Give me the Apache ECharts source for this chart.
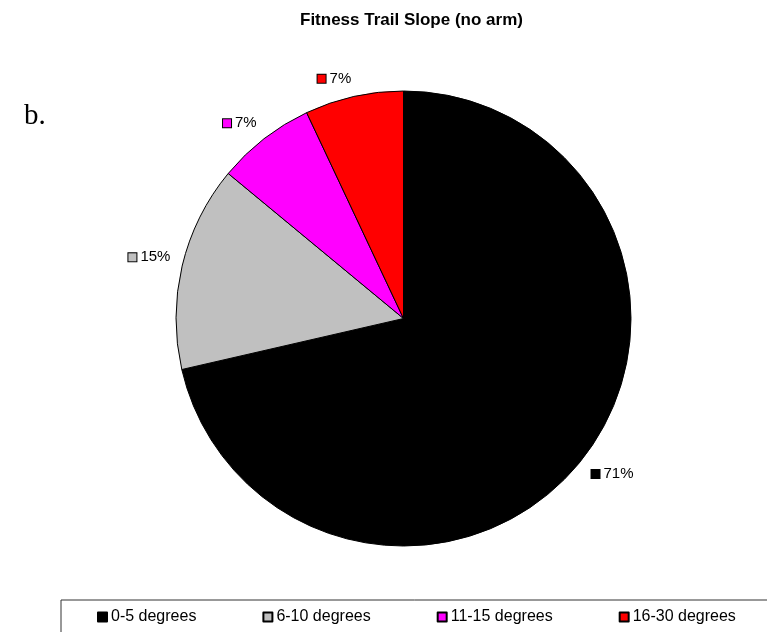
<!DOCTYPE html>
<html>
<head>
<meta charset="utf-8">
<script src="https://cdn.jsdelivr.net/npm/echarts@6/dist/echarts.min.js"></script>
<style>html,body{margin:0;padding:0;background:#fff;}#c{width:767px;height:632px;}</style>
</head>
<body>
<div id="c"></div>
<script>
const categories = ['0-5 degrees', '6-10 degrees', '11-15 degrees', '16-30 degrees'];
const values = [71.4, 14.6, 7.0, 7.0];
const colors = ['#000000', '#c0c0c0', '#ff00ff', '#ff0000'];
const titleText = 'Fitness Trail Slope (no arm)';
const panelLabel = 'b.';

const PIE_CENTER = [403.5, 318.5];
const PIE_RADIUS = 227.5;
const LABEL_GAP = 12;

const chart = echarts.init(document.getElementById('c'), null, {renderer: 'canvas'});
const rich = {};
colors.forEach((c, i) => {
  rich['s' + i] = {width: 8, height: 8, backgroundColor: c, borderColor: '#000', borderWidth: 1};
});
rich.t = {fontSize: 15, fontFamily: 'Liberation Sans, Arial, sans-serif', color: '#000', padding: [0, 0, 0, 4]};

chart.setOption({
  animation: false,
  title: [
    {text: titleText, left: 295, top: 7,
     textStyle: {fontSize: 17, fontWeight: 'bold', fontFamily: 'Liberation Sans, Arial, sans-serif', color: '#000'}},
    {text: panelLabel, left: 19, top: 97,
     textStyle: {fontSize: 29, fontWeight: 'normal', fontFamily: 'Liberation Serif, Times New Roman, serif', color: '#000'}}
  ],
  legend: {
    data: categories,
    left: 61, top: 600, width: 900,
    orient: 'horizontal',
    padding: [9, 80, 20, 36],
    itemGap: 66,
    itemWidth: 9, itemHeight: 9,
    icon: 'rect',
    borderColor: '#333', borderWidth: 1,
    textStyle: {fontSize: 16, fontFamily: 'Liberation Sans, Arial, sans-serif', color: '#000', padding: [0, 0, 0, -1]},
    selectedMode: false
  },
  series: [{
    type: 'pie',
    center: PIE_CENTER,
    radius: PIE_RADIUS,
    startAngle: 90,
    clockwise: true,
    avoidLabelOverlap: false,
    data: categories.map((n, i) => ({name: n, value: values[i], itemStyle: {color: colors[i]}})),
    itemStyle: {borderColor: '#000', borderWidth: 1},
    label: {
      show: true, position: 'outside',
      formatter: p => '{s' + p.dataIndex + '|}{t|' + Math.round(p.value) + '%}',
      rich: rich
    },
    labelLine: {show: false, length: 30, length2: 0},
    labelLayout: function (p) {
      const r = p.labelRect;
      const w = r.width, h = r.height;
      const ax = p.align === 'right' ? r.x + w + 5 : r.x - 5;
      const ay = r.y + h / 2;
      let dx = ax - PIE_CENTER[0], dy = ay - PIE_CENTER[1];
      const len = Math.sqrt(dx * dx + dy * dy);
      dx /= len; dy /= len;
      const D = PIE_RADIUS + LABEL_GAP;
      const tx = PIE_CENTER[0] + dx * D + Math.sign(dx) * w / 2;
      const ty = PIE_CENTER[1] + dy * D + Math.sign(dy) * 6;
      return {dx: tx - (r.x + w / 2), dy: ty - (r.y + h / 2)};
    },
    emphasis: {disabled: true}
  }]
});
</script>
</body>
</html>
